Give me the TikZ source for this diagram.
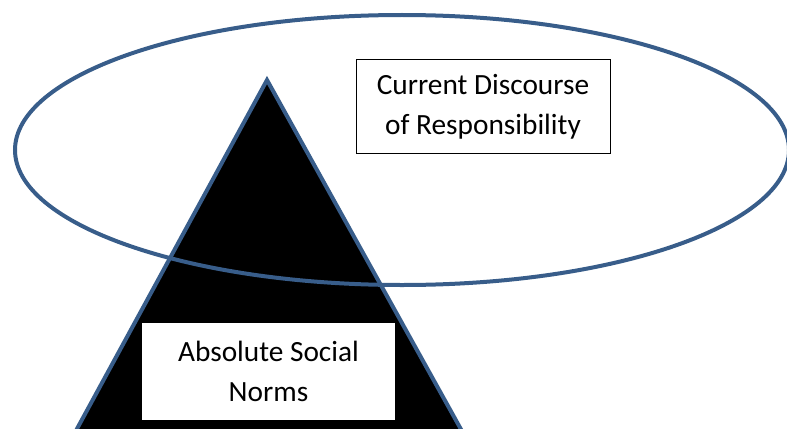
\documentclass[tikz,border=0pt]{standalone}
\usepackage{fontspec}
\setmainfont{Carlito}
\definecolor{edgeblue}{RGB}{56,93,138}

\begin{document}
\begin{tikzpicture}[x=0.75pt,y=-0.75pt,
  textbox/.style={draw=black, fill=white, line width=0.75pt, align=center,
    inner sep=0pt, font=\fontsize{22}{30}\selectfont}]

\useasboundingbox (0,0) rectangle (787,428);
\clip (0,0) rectangle (787,428);

% Draw the black triangle, running off the bottom edge
\draw [line width=3pt, edgeblue, fill=black, line join=miter] (267,80) -- (60,460) -- (478,460) -- cycle;

% Draw the ellipse over it
\draw [line width=3pt, edgeblue] (402,150) ellipse [x radius=387, y radius=135];

% Draw the two labels
\node [textbox, minimum width=190.5pt, minimum height=71pt] (discourse) at (483,106.5) {Current Discourse\\of Responsibility};
\node [textbox, minimum width=191pt, minimum height=73pt] (norms) at (268.5,371.5) {Absolute Social\\Norms};

\end{tikzpicture}
\end{document}
